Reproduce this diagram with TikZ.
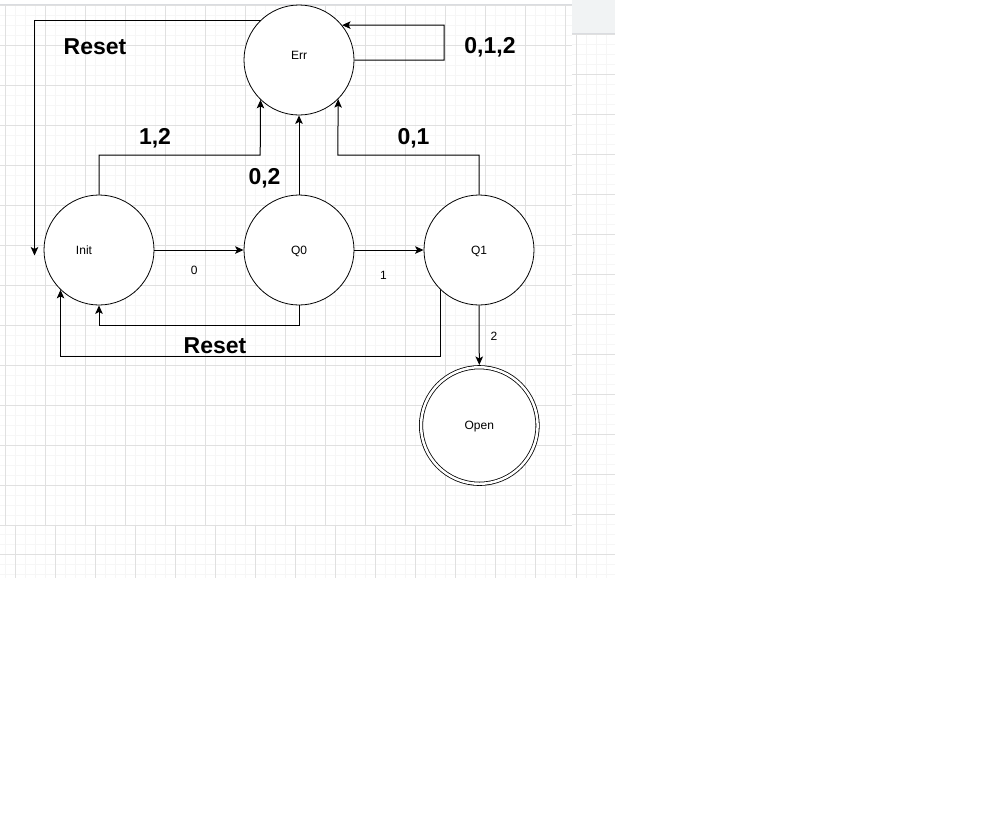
\documentclass[tikz,border=0pt]{standalone}
\usepackage{fontspec}
\setmainfont{Liberation Sans}
\usetikzlibrary{arrows.meta}
\definecolor{gridmajor}{HTML}{E0E0E0}
\definecolor{gridminor}{HTML}{F6F6F6}
\definecolor{barfill}{HTML}{F1F3F4}
\definecolor{barline}{HTML}{DADCE0}
\begin{document}
\begin{tikzpicture}[x=1pt,y=-1pt,
  state/.style={circle, draw=black, line width=0.8pt, minimum size=110pt, inner sep=0pt, fill=white},
  arr/.style={line width=1pt, -{Stealth[length=8.5pt,width=7.5pt,inset=2pt]}},
  big/.style={font=\fontsize{23}{27}\selectfont\bfseries, anchor=base, inner sep=0pt},
  small/.style={font=\fontsize{12}{14}\selectfont, anchor=base, inner sep=0pt},
  minor/.style={draw=gridminor, line width=0.7pt},
  major/.style={draw=gridmajor, line width=0.8pt}]
% canvas
\fill[white] (0,0) rectangle (981,820);
\useasboundingbox (0,0) rectangle (981,820);
% main page grid
\foreach \x in {5,15,...,565} \draw[minor] (\x,5) -- (\x,525);
\foreach \y in {5,15,...,525} \draw[minor] (0,\y) -- (572,\y);
\foreach \x in {5,45,...,565} \draw[major] (\x,5) -- (\x,525);
\foreach \y in {5,45,...,525} \draw[major] (0,\y) -- (572,\y);
% bottom strip grid
\foreach \x in {5,15,...,565} \draw[minor] (\x,526) -- (\x,578);
\foreach \y in {534,544,...,574} \draw[minor] (0,\y) -- (572,\y);
\foreach \x in {15,55,...,535} \draw[major] (\x,526) -- (\x,578);
\draw[major] (0,554) -- (572,554);
% right strip grid
\foreach \x in {576,586,596,606} \draw[minor] (\x,34) -- (\x,578);
\foreach \y in {34,44,...,574} \draw[minor] (572,\y) -- (615,\y);
\draw[major] (576,34) -- (576,578);
\foreach \y in {34,74,...,554} \draw[major] (572,\y) -- (615,\y);
% top bars
\fill[white] (0,0) rectangle (572,4.5);
\draw[barline] (0,4.5) -- (572,4.5);
\fill[barfill] (572,0) rectangle (615,33);
\draw[barline] (572,33.5) -- (615,33.5);

% states
\node[state] (err) at (299,60) {};
\node[state] (init) at (99,250) {};
\node[state] (q0) at (299,250) {};
\node[state] (q1) at (479,250) {};
\node[state, minimum size=116.5pt, double, double distance=2.5pt, outer sep=2.3pt] (open) at (479.3,425.5) {};

\node[small] (errlbl) at (299,59.8) {Err};
\node[small] (initlbl) at (84,254.3) {Init};
\node[small] (q0lbl) at (299,254.3) {Q0};
\node[small] (q1lbl) at (479,254.3) {Q1};
\node[small] (openlbl) at (479.3,429.8) {Open};

% helper coordinates
\coordinate (resetend) at (34.5,255.5);
\coordinate (loopc) at (444,25);
\coordinate (c12) at (260.2,155);
\coordinate (c01) at (337.8,155);

% transitions
\draw[arr] (err.134.8) -| (resetend);
\draw[arr] (err.east) -| (loopc) -- (err.39.5);
\draw[arr] (init.north) |- (c12) -- (err.-134.8);
\draw[arr] (q0.north) -- (err.south);
\draw[arr] (q1.north) |- (c01) -- (err.-45.2);
\draw[arr] (init.east) -- (q0.west);
\draw[arr] (q0.east) -- (q1.west);
\draw[arr] (q0.south) -- ++(0,20) -| (init.south);
\draw[arr] (q1.-134.8) -- ++(0,66.2) -| (init.-134.8);
\draw[arr] (q1.south) -- (open.north);

% labels
\node[big] (lreset1) at (95,54) {Reset};
\node[big] (l012) at (490,53) {0,1,2};
\node[big] (l12) at (155,144) {1,2};
\node[big] (l02) at (264.5,184) {0,2};
\node[big] (l01) at (413.5,144) {0,1};
\node[big] (lreset2) at (215,353) {Reset};
\node[small] (l0) at (194.3,274.3) {0};
\node[small] (l1) at (383.5,279.3) {1};
\node[small] (l2) at (494,340.3) {2};
\end{tikzpicture}
\end{document}
